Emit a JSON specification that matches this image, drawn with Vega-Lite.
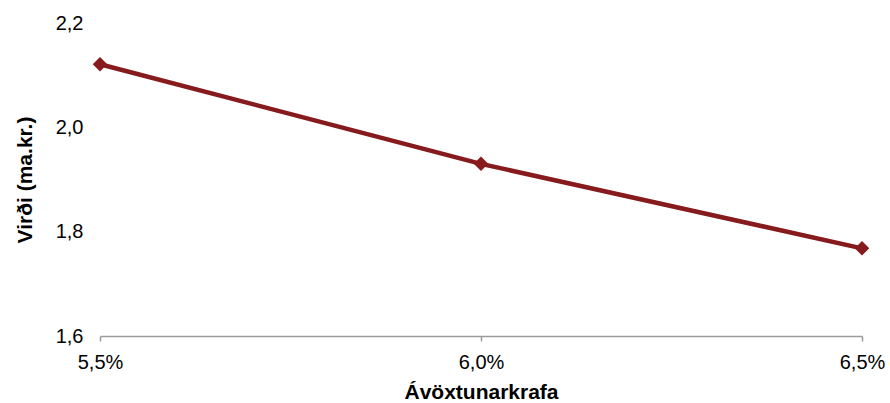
{
  "$schema": "https://vega.github.io/schema/vega-lite/v6.json",
  "width": 762,
  "height": 313,
  "autosize": {"type": "none"},
  "padding": {"left": 100, "top": 23, "right": 28, "bottom": 67},
  "background": "white",
  "config": {
    "view": {"stroke": null},
    "font": "Liberation Sans",
    "axis": {
      "labelFont": "Liberation Sans",
      "titleFont": "Liberation Sans",
      "labelColor": "#000000",
      "titleColor": "#000000",
      "labelFontSize": 20,
      "titleFontSize": 21,
      "titleFontWeight": "bold",
      "grid": false
    }
  },
  "data": {
    "values": [
      {"avoxtunarkrafa": 5.5, "virdi": 2.121},
      {"avoxtunarkrafa": 6.0, "virdi": 1.93},
      {"avoxtunarkrafa": 6.5, "virdi": 1.768}
    ]
  },
  "mark": {
    "type": "line",
    "color": "#861a1d",
    "strokeWidth": 4.5,
    "point": {"shape": "diamond", "size": 210, "color": "#861a1d", "filled": true, "opacity": 1}
  },
  "encoding": {
    "x": {
      "field": "avoxtunarkrafa",
      "type": "quantitative",
      "title": "Ávöxtunarkrafa",
      "scale": {"domain": [5.5, 6.5], "nice": false, "zero": false},
      "axis": {
        "values": [5.5, 6.0, 6.5],
        "labelExpr": "replace(format(datum.value, '.1f'), '.', ',') + '%'",
        "domainColor": "#9a9a9a",
        "domainWidth": 1.5,
        "tickColor": "#9a9a9a",
        "tickWidth": 1.5,
        "tickSize": 5,
        "labelPadding": 11,
        "titlePadding": 9,
        "labelFlush": false
      }
    },
    "y": {
      "field": "virdi",
      "type": "quantitative",
      "title": "Virði (ma.kr.)",
      "scale": {"domain": [1.6, 2.2], "nice": false, "zero": false},
      "axis": {
        "values": [1.6, 1.8, 2.0, 2.2],
        "labelExpr": "replace(format(datum.value, '.1f'), '.', ',')",
        "domain": false,
        "ticks": false,
        "labelPadding": 17,
        "titlePadding": 20
      }
    }
  }
}
